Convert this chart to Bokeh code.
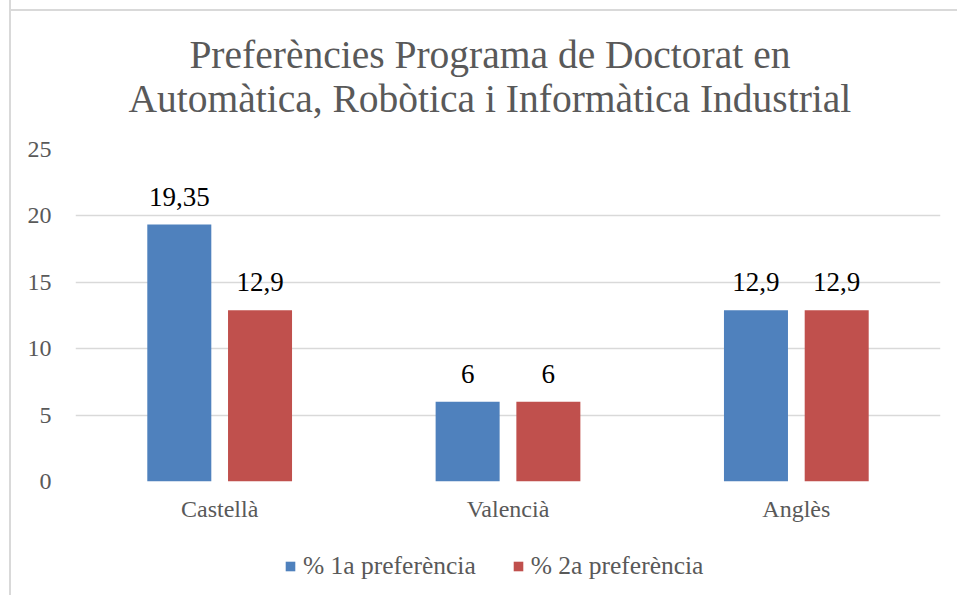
from bokeh.plotting import figure
from bokeh.layouts import column
from bokeh.models import (ColumnDataSource, FactorRange, Range1d, FixedTicker, Legend,
                          LegendItem, Title)
from bokeh.transform import dodge
from bokeh.core.properties import value
from bokeh.embed import file_html
from bokeh.resources import INLINE

# ---- data ----
categories = ["Castellà", "Valencià", "Anglès"]
pref1 = [19.35, 6, 12.9]
pref2 = [12.9, 6, 12.9]
series_names = ["% 1a preferència", "% 2a preferència"]
y_ticks = [0, 5, 10, 15, 20, 25]
title_text = "Preferències Programa de Doctorat en\nAutomàtica, Robòtica i Informàtica Industrial"

def fmt(v):
    return f"{v:g}".replace(".", ",")

src = ColumnDataSource(dict(cat=categories, v1=pref1, v2=pref2,
                            l1=[fmt(v) for v in pref1], l2=[fmt(v) for v in pref2]))

FONT = "Liberation Serif"
GRAY = "#595959"
BLUE = "#4F81BD"
RED = "#C0504D"
FRAME_BG = ("linear-gradient(#D9D9D9,#D9D9D9) 9px 0px / 2px 100% no-repeat, "
            "linear-gradient(#D9D9D9,#D9D9D9) 9px 9px / 100% 2px no-repeat, white")
LEG_BG = "linear-gradient(#D9D9D9,#D9D9D9) 9px 0px / 2px 100% no-repeat, white"

p = figure(x_range=FactorRange(*categories), y_range=Range1d(0, 25),
           width=957, height=540, output_backend="svg", toolbar_location=None,
           min_border_left=75, min_border_right=17, min_border_top=149, min_border_bottom=59)
p.title = None
p.add_layout(Title(text=title_text, align="left", text_align="center",
                   text_font=FONT, text_font_size="39.5px", text_line_height=1.0,
                   text_color=GRAY, text_font_style="normal", standoff=58, offset=53), "above")

r1 = p.vbar(x=dodge("cat", -0.14, range=p.x_range), top="v1", width=0.222, source=src,
            fill_color=BLUE, line_color=None)
r2 = p.vbar(x=dodge("cat", 0.14, range=p.x_range), top="v2", width=0.222, source=src,
            fill_color=RED, line_color=None)

for off, col, lab in [(-0.14, "v1", "l1"), (0.14, "v2", "l2")]:
    p.text(x=dodge("cat", off, range=p.x_range), y=col, text=lab, source=src,
           text_align="center", text_baseline="alphabetic", y_offset=-28,
           text_font=value(FONT), text_font_size="27px", text_color="#000000")

p.outline_line_color = None
p.border_fill_color = None
p.background_fill_color = None
p.styles = {"background": FRAME_BG}
p.xgrid.grid_line_color = None
p.ygrid.grid_line_color = "#D9D9D9"
p.ygrid.grid_line_width = 1.5
p.yaxis.ticker = FixedTicker(ticks=y_ticks)
for ax in (p.xaxis[0], p.yaxis[0]):
    ax.axis_line_color = None
    ax.major_tick_line_color = None
    ax.minor_tick_line_color = None
    ax.major_label_text_font = FONT
    ax.major_label_text_font_size = "24px"
    ax.major_label_text_color = GRAY
p.yaxis.major_label_standoff = 18
p.xaxis.major_label_standoff = 8

# legend strip below the chart (its renderers hold a zero-height placeholder bar)
pl = figure(width=957, height=55, output_backend="svg", toolbar_location=None,
            x_range=Range1d(0, 1), y_range=Range1d(10, 11),
            x_axis_type=None, y_axis_type=None,
            min_border_left=0, min_border_right=0, min_border_top=0, min_border_bottom=0)
pl.outline_line_color = None
pl.grid.grid_line_color = None
pl.border_fill_color = None
pl.background_fill_color = None
pl.styles = {"background": LEG_BG}
lr1 = pl.vbar(x=[0], top=[0], width=0.1, fill_color=BLUE, line_color=None)
lr2 = pl.vbar(x=[0], top=[0], width=0.1, fill_color=RED, line_color=None)
legend = Legend(items=[LegendItem(label=series_names[0], renderers=[lr1]),
                       LegendItem(label=series_names[1], renderers=[lr2])],
                orientation="horizontal", location=(209, 14),
                label_text_font=FONT, label_text_font_size="25.5px", label_text_color=GRAY,
                glyph_width=12, glyph_height=12, label_standoff=7, spacing=36,
                border_line_color=None, background_fill_alpha=0, padding=0, margin=0)
pl.add_layout(legend, "center")

layout = column(p, pl, spacing=0)
open("out.html", "w").write(file_html(layout, INLINE))
